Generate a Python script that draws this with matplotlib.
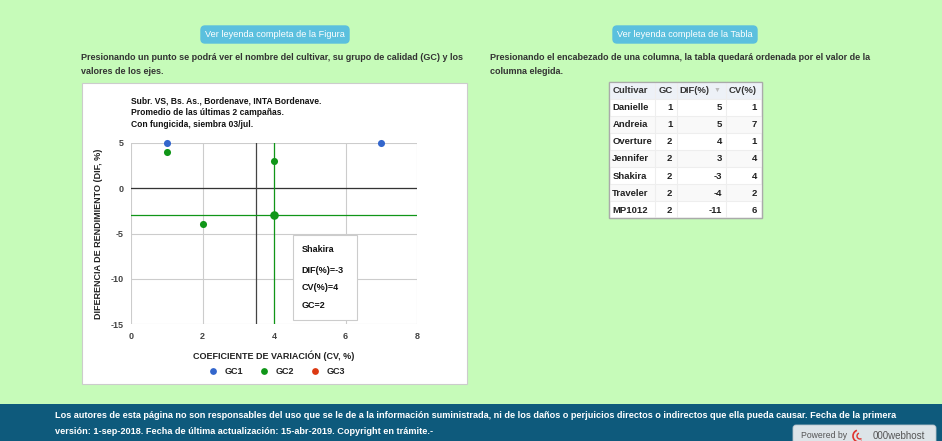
import matplotlib
matplotlib.use('Agg')
import matplotlib.pyplot as plt
from matplotlib.patches import Rectangle, FancyBboxPatch, Arc

plt.rcParams['font.family'] = ['Liberation Sans', 'DejaVu Sans']
plt.rcParams['axes.unicode_minus'] = False

# datos de la tabla / grafico
cultivares = ['Danielle', 'Andreia', 'Overture', 'Jennifer', 'Shakira', 'Traveler', 'MP1012']
gc = [1, 1, 2, 2, 2, 2, 2]
dif = [5, 5, 4, 3, -3, -4, -11]
cv = [1, 7, 1, 4, 4, 2, 6]

grupos = ['GC1', 'GC2', 'GC3']
colores = {1: '#3366cc', 2: '#109618', 3: '#dc3912'}

cv_medio = 3.5
seleccion = 'Shakira'

titulo = ['Subr. VS, Bs. As., Bordenave, INTA Bordenave.',
          'Promedio de las últimas 2 campañas.',
          'Con fungicida, siembra 03/jul.']
encabezados = ['Cultivar', 'GC', 'DIF(%)', 'CV(%)']

W, H = 942, 441
fig = plt.figure(figsize=(W / 100, H / 100), dpi=100)
fig.patch.set_facecolor('#c6fbb9')

# eje de fondo en pixeles
bg = fig.add_axes([0, 0, 1, 1])
bg.set_xlim(0, W)
bg.set_ylim(H, 0)
bg.axis('off')

txt = '#333333'

# botones
for x0, x1, label in [(201, 349, 'Ver leyenda completa de la Figura'),
                      (613, 757, 'Ver leyenda completa de la Tabla')]:
    bg.add_patch(FancyBboxPatch((x0, 26), x1 - x0, 17, boxstyle='round,pad=0,rounding_size=4',
                                facecolor='#5bc0de', edgecolor='#5bc0de'))
    bg.text((x0 + x1) / 2, 34.8, label, color='white', fontsize=6.6, ha='center', va='center')

# parrafos
bg.text(81, 58, 'Presionando un punto se podrá ver el nombre del cultivar, su grupo de calidad (GC) y los',
        color=txt, fontsize=6.5, va='center', weight='bold')
bg.text(81, 72, 'valores de los ejes.', color=txt, fontsize=6.5, va='center', weight='bold')
bg.text(490, 58, 'Presionando el encabezado de una columna, la tabla quedará ordenada por el valor de la',
        color=txt, fontsize=6.5, va='center', weight='bold')
bg.text(490, 72, 'columna elegida.', color=txt, fontsize=6.5, va='center', weight='bold')

# caja blanca del grafico
bg.add_patch(Rectangle((82, 83), 385, 301, facecolor='white', edgecolor='#cccccc', lw=0.8))
for i, t in enumerate(titulo):
    bg.text(131, 101 + i * 11.6, t, fontsize=6.15, weight='bold', color='#111111', va='center')

# grafico de dispersion
ax = fig.add_axes([131 / W, 1 - 324 / H, 286 / W, 181 / H])
ax.set_xlim(0, 8)
ax.set_ylim(-15, 5)
ax.set_xticks([0, 2, 4, 6, 8])
ax.set_yticks([5, 0, -5, -10, -15])
ax.grid(True, color='#cccccc', lw=0.8)
ax.set_axisbelow(True)
for s in ax.spines.values():
    s.set_visible(False)
ax.tick_params(length=0, labelsize=6.5, labelcolor='#444444', pad=5.5)
for lab in ax.get_xticklabels() + ax.get_yticklabels():
    lab.set_fontweight('bold')
ax.axhline(0, color='#333333', lw=0.9, zorder=2)
ax.axvline(cv_medio, color='#444444', lw=0.9, zorder=2)

i_sel = cultivares.index(seleccion)
ax.axvline(cv[i_sel], color=colores[gc[i_sel]], lw=0.9, zorder=2)
ax.axhline(dif[i_sel], color=colores[gc[i_sel]], lw=0.9, zorder=2)

for i in range(len(cultivares)):
    size = 38 if i == i_sel else 26
    ax.scatter(cv[i], dif[i], s=size, color=colores[gc[i]], zorder=3, linewidths=0, clip_on=False)

ax.set_xlabel('COEFICIENTE DE VARIACIÓN (CV, %)', fontsize=6.5, color='#222222', labelpad=7)
ax.set_ylabel('DIFERENCIA DE RENDIMIENTO (DIF, %)', fontsize=6.5, color='#222222', labelpad=5)
ax.xaxis.label.set_fontweight('bold')
ax.yaxis.label.set_fontweight('bold')

# leyenda
for k, g in enumerate(grupos):
    x = 212.7 + k * 51.2
    bg.scatter(x, 371, s=24, color=colores[k + 1], linewidths=0)
    bg.text(x + 12, 371, g, fontsize=6.5, color='#222222', va='center', weight='bold')

# tooltip
ax.add_patch(Rectangle((294, 236), 64, 85, transform=bg.transData, facecolor='#d9d9d9',
                       edgecolor='none', clip_on=False, zorder=9))
ax.add_patch(Rectangle((292.5, 234.5), 64, 85, transform=bg.transData, facecolor='white',
                       edgecolor='#cccccc', lw=0.8, clip_on=False, zorder=10))
tip = [seleccion, f'DIF(%)={dif[i_sel]}', f'CV(%)={cv[i_sel]}', f'GC={gc[i_sel]}']
for t, y in zip(tip, [249.3, 270.3, 287.3, 305]):
    ax.text(301.7, y, t, transform=bg.transData, fontsize=6.5, weight='bold', color='#111111',
            va='center', zorder=11, clip_on=False)

# tabla
col_x = [609.3, 655, 676.7, 725.7, 761.7]
row_y = [82.3, 99] + [99 + 17.05 * (k + 1) for k in range(len(cultivares))]
bg.add_patch(Rectangle((col_x[0], row_y[0]), col_x[-1] - col_x[0], row_y[-1] - row_y[0],
                       facecolor='white', edgecolor='#aaaaaa', lw=0.9, zorder=2))
bg.add_patch(Rectangle((col_x[0], row_y[0]), col_x[-1] - col_x[0], row_y[1] - row_y[0],
                       facecolor='#edf1f7', edgecolor='none', zorder=2))
for r in range(1, len(cultivares)):
    if r % 2 == 1:
        bg.add_patch(Rectangle((col_x[0], row_y[r + 1]), col_x[-1] - col_x[0], 17,
                               facecolor='#f9f9f9', edgecolor='none', zorder=2))
for xc in col_x[1:-1]:
    bg.plot([xc, xc], [row_y[0], row_y[-1]], color='#eeeeee', lw=0.8, zorder=3)
for yr in row_y[1:-1]:
    bg.plot([col_x[0], col_x[-1]], [yr, yr], color='#eeeeee', lw=0.8, zorder=3)
bg.add_patch(Rectangle((col_x[0], row_y[0]), col_x[-1] - col_x[0], row_y[-1] - row_y[0],
                       facecolor='none', edgecolor='#aaaaaa', lw=0.9, zorder=4))

hy = 90.5
fs_t = 6.8
bg.text(612.3, hy, encabezados[0], fontsize=fs_t, weight='bold', color='#333333', va='center', zorder=5)
bg.text(665.5, hy, encabezados[1], fontsize=fs_t, weight='bold', color='#333333', va='center', ha='center', zorder=5)
bg.text(679.5, hy, encabezados[2], fontsize=fs_t, weight='bold', color='#333333', va='center', zorder=5)
bg.text(716.7, hy, '▼', fontsize=5, color='#bbbbbb', va='center', ha='center', zorder=5)
bg.text(757, hy, encabezados[3], fontsize=fs_t, weight='bold', color='#333333', va='center', ha='right', zorder=5)
for r in range(len(cultivares)):
    y = (row_y[r + 1] + row_y[r + 2]) / 2 + 0.3
    bg.text(612.3, y, cultivares[r], fontsize=fs_t, weight='bold', color='#222222', va='center', zorder=5)
    bg.text(672.3, y, str(gc[r]), fontsize=fs_t, weight='bold', color='#222222', va='center', ha='right', zorder=5)
    bg.text(721.7, y, str(dif[r]), fontsize=fs_t, weight='bold', color='#222222', va='center', ha='right', zorder=5)
    bg.text(757, y, str(cv[r]), fontsize=fs_t, weight='bold', color='#222222', va='center', ha='right', zorder=5)

# pie de pagina
bg.add_patch(Rectangle((0, 404), W, H - 404, facecolor='#0e5a7c', edgecolor='none'))
bg.text(55, 415.5, 'Los autores de esta página no son responsables del uso que se le de a la información '
        'suministrada, ni de los daños o perjuicios directos o indirectos que ella pueda causar. '
        'Fecha de la primera', color='white', fontsize=6.55, weight='bold', va='center')
bg.text(55, 432, 'versión: 1-sep-2018. Fecha de última actualización: 15-abr-2019. Copyright en trámite.-',
        color='white', fontsize=6.55, weight='bold', va='center')
bg.add_patch(FancyBboxPatch((793, 425), 143, 20, boxstyle='round,pad=0,rounding_size=3',
                            facecolor='#dde4e8', edgecolor='#b8c4cc', lw=0.6))
bg.text(801, 436, 'Powered by', fontsize=6.2, color='#555555', va='center')
bg.add_patch(Arc((859, 436), 12, 12, theta1=60, theta2=250, color='#e0332e', lw=1.2))
bg.add_patch(Arc((860, 436), 6, 6, theta1=60, theta2=250, color='#e0332e', lw=1.0))
bg.text(873, 436, '000webhost', fontsize=7, color='#555555', va='center')

fig.savefig('out.png', dpi=100, facecolor=fig.get_facecolor())
